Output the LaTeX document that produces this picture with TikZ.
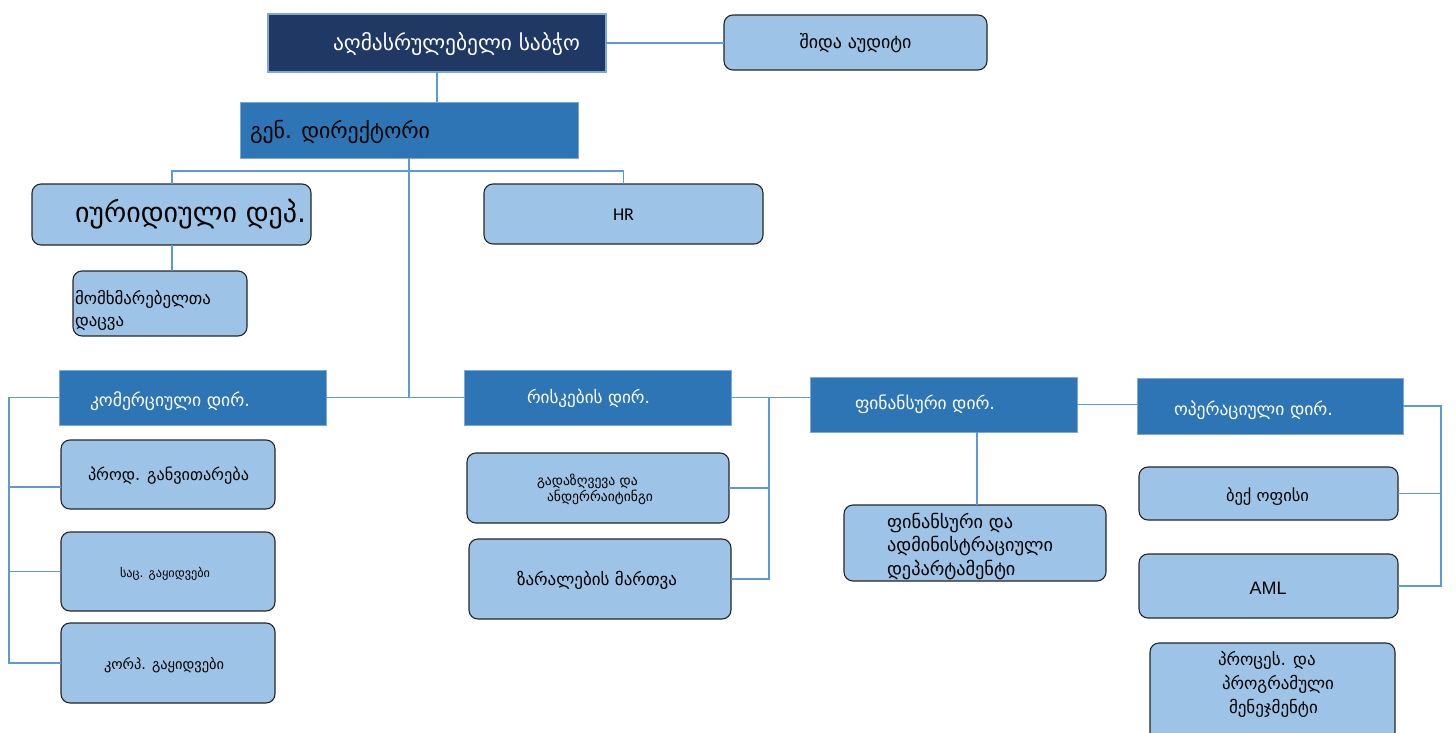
\documentclass[tikz,border=0pt]{standalone}
\usepackage{fontspec}
\setmainfont{DejaVu Sans}
\newfontfamily\carl{Carlito}
\newfontfamily\libs{Liberation Sans}
\usepackage{graphicx}
\definecolor{navy}{HTML}{203864}
\definecolor{midblue}{HTML}{2E75B6}
\definecolor{lightblue}{HTML}{9DC3E6}
\definecolor{linec}{HTML}{5B9BD5}
\definecolor{dirb}{HTML}{7FA7D9}
\newlength\mylen
\newcommand\fw[2]{\resizebox{#1pt}{!}{#2}}
% scale line #3 by the factor that brings reference text #2 to width #1
\newcommand\fl[3]{\settowidth\mylen{#2}\pgfmathsetmacro\myscale{#1/\mylen}\scalebox{\myscale}{#3}}
\newcommand\bx[6]{\node[#1, minimum width={(#4)-(#2)}, minimum height={(#5)-(#3)}] (#6) at ({((#2)+(#4))/2},{((#3)+(#5))/2}) {};}
\tikzset{
  dirbox/.style={draw=dirb, line width=0.9pt, fill=midblue, inner sep=0pt, outer sep=0pt},
  navybox/.style={draw=dirb, line width=1.2pt, fill=navy, inner sep=0pt, outer sep=0pt},
  rbox/.style={draw=black!85, line width=1.1pt, fill=lightblue, rounded corners=9pt, inner sep=0pt, outer sep=0pt},
  conn/.style={draw=linec, line width=1.1pt},
  txt/.style={inner sep=0pt, outer sep=0pt},
}
\begin{document}
\begin{tikzpicture}[x=1pt,y=-1pt]
\useasboundingbox[fill=white] (0,0) rectangle (1456,733);
\begin{scope}
\clip (0,0) rectangle (1456,733);
% boxes
\bx{navybox}{268}{14}{606}{72}{exec}
\bx{rbox}{724}{15}{987}{70}{audit}
\bx{dirbox}{240}{102}{578}{158}{gen}
\bx{rbox}{32}{184}{311}{245}{jur}
\bx{rbox}{73}{271}{247}{336}{cons}
\bx{rbox}{484}{184}{763}{244}{hr}
\bx{dirbox}{59}{370}{326}{425}{kom}
\bx{rbox}{61}{440}{275}{509}{prod}
\bx{rbox}{61}{532}{275}{611}{sac}
\bx{rbox}{61}{623}{275}{703}{korp}
\bx{dirbox}{464}{370}{731}{425}{risk}
\bx{rbox}{467}{453}{729}{523}{gad}
\bx{rbox}{469}{539}{731}{619}{zar}
\bx{dirbox}{810}{377}{1077}{432}{fin}
\bx{rbox}{844}{505}{1106}{581}{fa}
\bx{dirbox}{1137}{378}{1403}{434}{op}
\bx{rbox}{1139}{467}{1398}{520}{bo}
\bx{rbox}{1139}{554}{1398}{618}{aml}
\bx{rbox}{1150}{643}{1395}{745}{proc}
% texts
\node[txt, anchor=west, text=white] (texec) at (333,44) {\fw{247}{აღმასრულებელი საბჭო}};
\node[txt] (taudit) at (855.5,43) {\fw{112}{შიდა აუდიტი}};
\node[txt, anchor=west] (tgen) at (250,132) {\fw{180}{გენ. დირექტორი}};
\node[txt, anchor=west] (tjur) at (75,214) {\fw{231}{იურიდიული დეპ.}};
\node[txt, anchor=west] (tcons1) at (75,299) {\fl{136}{მომხმარებელთა}{მომხმარებელთა}};
\node[txt, anchor=west] (tcons2) at (75,324) {\fl{136}{მომხმარებელთა}{დაცვა}};
\node[txt, font=\carl\fontsize{18}{20}\selectfont] (thr) at (623.5,215) {HR};
\node[txt, anchor=west, text=white] (tkom) at (90,401) {\fw{160}{კომერციული დირ.}};
\node[txt, anchor=west] (tprod) at (88,476) {\fw{161}{პროდ. განვითარება}};
\node[txt, anchor=west] (tsac) at (120,574) {\fw{90}{საც. გაყიდვები}};
\node[txt, anchor=west] (tkorp) at (104,665) {\fw{120}{კორპ. გაყიდვები}};
\node[txt, anchor=west, text=white] (trisk) at (527,398) {\fw{123}{რისკების დირ.}};
\node[txt, anchor=west] (tgad1) at (537,481) {\fl{106}{ანდერრაიტინგი}{გადაზღვევა და}};
\node[txt, anchor=west] (tgad2) at (547,497) {\fl{106}{ანდერრაიტინგი}{ანდერრაიტინგი}};
\node[txt, anchor=west] (tzar) at (517,580) {\fw{160}{ზარალების მართვა}};
\node[txt, anchor=west, text=white] (tfin) at (855,404) {\fw{140}{ფინანსური დირ.}};
\node[txt, anchor=west] (tfa1) at (887,523) {\fl{166}{ადმინისტრაციული}{ფინანსური და}};
\node[txt, anchor=west] (tfa2) at (887,546) {\fl{166}{ადმინისტრაციული}{ადმინისტრაციული}};
\node[txt, anchor=west] (tfa3) at (887,570) {\fl{166}{ადმინისტრაციული}{დეპარტამენტი}};
\node[txt, anchor=west, text=white] (top) at (1174,410) {\fw{159}{ოპერაციული დირ.}};
\node[txt] (tbo) at (1267.5,497) {\fw{83}{ბექ ოფისი}};
\node[txt, font=\libs\fontsize{18}{20}\selectfont] (taml) at (1268,588) {AML};
\node[txt, anchor=west] (tproc1) at (1218,660) {\fl{112}{პროგრამული}{პროცეს. და}};
\node[txt, anchor=west] (tproc2) at (1222,684) {\fl{112}{პროგრამული}{პროგრამული}};
\node[txt, anchor=west] (tproc3) at (1229,708) {\fl{112}{პროგრამული}{მენეჯმენტი}};
% connectors
\coordinate (j1) at (409,171);
\coordinate (lb) at (9,0);
\coordinate (rb) at (769,0);
\coordinate (ob) at (1441,0);
\draw[conn] (exec.east) -- (exec.east -| audit.west);
\draw[conn] (exec.south -| 437,0) -- (gen.north -| 437,0);
\draw[conn] (gen.south -| j1) -- (j1 |- kom.east);
\draw[conn] (jur.north -| 172,0) |- (j1) -| (hr.north);
\draw[conn] (jur.south -| 172,0) -- (cons.north -| 172,0);
\draw[conn] (kom.east) -- (kom.east -| risk.west);
\draw[conn] (kom.west) -- (kom.west -| lb) |- (korp.west);
\draw[conn] (lb |- 0,487) -- (prod.west |- 0,487);
\draw[conn] (lb |- sac.west) -- (sac.west);
\draw[conn] (risk.east) -- (risk.east -| fin.west);
\draw[conn] (rb |- risk.east) |- (zar.east);
\draw[conn] (rb |- gad.east) -- (gad.east);
\draw[conn] (fin.east) -- (fin.east -| op.west);
\draw[conn] (fa.north -| 977,0) -- (fin.south -| 977,0);
\draw[conn] (op.east) -- (op.east -| ob) |- (aml.east);
\draw[conn] (ob |- bo.east) -- (bo.east);
\end{scope}
\end{tikzpicture}
\end{document}
